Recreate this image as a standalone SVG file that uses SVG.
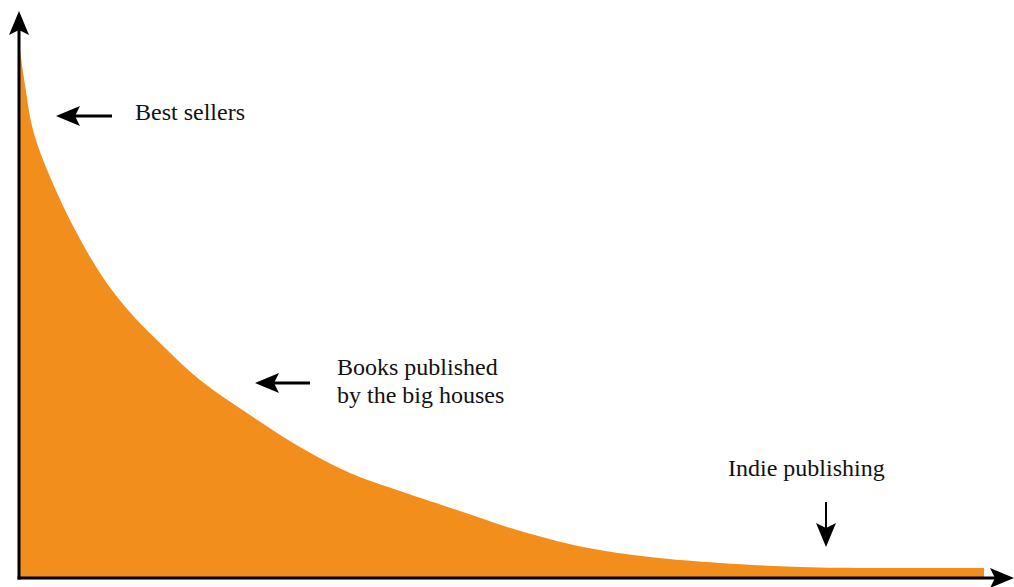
<svg xmlns="http://www.w3.org/2000/svg" width="1014" height="587" viewBox="0 0 1014 587">
  <style>
    .lbl { font-family: "Liberation Serif", "Times New Roman", serif; font-size: 24px; fill: #111; }
    .ax { stroke: #000; stroke-width: 3; fill: none; }
    .ann { stroke: #000; stroke-width: 3; fill: none; }
  </style>
  <defs>
    <marker id="head" viewBox="0 0 24 20" refX="5" refY="10" markerWidth="24" markerHeight="20" markerUnits="userSpaceOnUse" orient="auto">
      <path d="M0,0 L24,10 L0,20 L5,10 Z" fill="#000"/>
    </marker>
  </defs>
  <rect width="1014" height="587" fill="#fff"/>
  <g id="curve">
    <path fill="#F18E1C" d="M20,48 C20.9,57.7 23.33,74.33 25.5,88 C27.67,101.67 29.25,116 33,130 C36.75,144 41.5,156.33 48,172 C54.5,187.67 63.33,207.17 72,224 C80.67,240.83 90.67,258.67 100,273 C109.33,287.33 118,298.33 128,310 C138,321.67 148,331.33 160,343 C172,354.67 185.5,368.33 200,380 C214.5,391.67 230.33,401.83 247,413 C263.67,424.17 282.83,437 300,447 C317.17,457 333.33,465.67 350,473 C366.67,480.33 381.67,484.67 400,491 C418.33,497.33 440.5,504.5 460,511 C479.5,517.5 496.5,524 517,530 C537.5,536 560.83,542.5 583,547 C605.17,551.5 627.17,554.33 650,557 C672.83,559.67 695,561.33 720,563 C745,564.67 773.33,566.17 800,567 C826.67,567.83 849.33,567.83 880,568 L984,568 L984,578 L20,578 Z"/>
  </g>
  <g id="connectors">
    <line class="ax" x1="19" y1="579.5" x2="19" y2="30" marker-end="url(#head)"/>
    <line class="ax" x1="17.5" y1="578" x2="995" y2="578" marker-end="url(#head)"/>
    <line class="ann" x1="112" y1="116" x2="75" y2="116" marker-end="url(#head)"/>
    <line class="ann" x1="310" y1="383" x2="274" y2="383" marker-end="url(#head)"/>
    <line class="ann" style="stroke-width:2" x1="826" y1="502" x2="826" y2="528" marker-end="url(#head)"/>
  </g>
  <g id="best-sellers">
    <text class="lbl" x="135" y="120">Best sellers</text>
  </g>
  <g id="big-houses">
    <text class="lbl" x="337" y="375">Books published</text>
    <text class="lbl" x="337" y="403">by the big houses</text>
  </g>
  <g id="indie">
    <text class="lbl" x="728" y="476">Indie publishing</text>
  </g>
</svg>
